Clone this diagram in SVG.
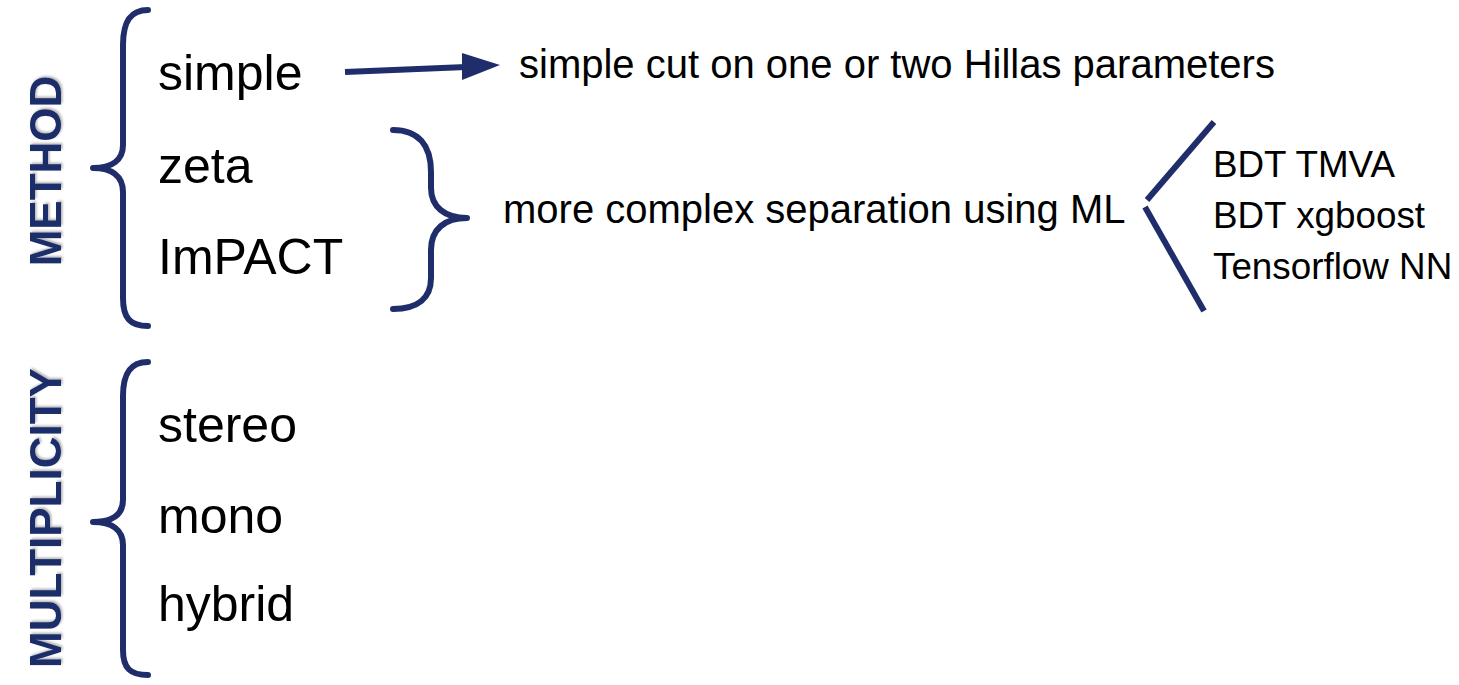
<svg xmlns="http://www.w3.org/2000/svg" width="1459" height="685" viewBox="0 0 1459 685">
<defs>
<style>
.t{font-family:"Liberation Sans",Arial,sans-serif;fill:#000}
.big{font-size:50px}
.mid{font-size:40px}
.sm{font-size:36.8px}
.lab{font-family:"Liberation Sans",Arial,sans-serif;font-weight:bold;font-size:44px;fill:#1f2e6b}
.br{fill:none;stroke:#1f2e6b;stroke-width:6;stroke-linecap:round;stroke-linejoin:round}
.ln{fill:none;stroke:#1f2e6b;stroke-width:6}
</style>
<filter id="sh" x="-10%" y="-10%" width="130%" height="130%">
<feDropShadow dx="1.5" dy="1.5" stdDeviation="1.2" flood-color="#000" flood-opacity="0.3"/>
</filter>
</defs>
<rect width="1459" height="685" fill="#fff"/>
<g id="method-label"><text class="lab" filter="url(#sh)" transform="translate(61,171) rotate(-90)" text-anchor="middle">METHOD</text></g>
<g id="multiplicity-label"><text class="lab" filter="url(#sh)" transform="translate(61,518) rotate(-90)" text-anchor="middle">MULTIPLICITY</text></g>
<g id="method-brace"><path class="br" d="M148,10 C130,10 123,22 123,45 L123,145 C123,160 112,168 93,168 C112,168 123,176 123,192 L123,298 C123,318 130,326 148,326"/></g>
<g id="multiplicity-brace"><path class="br" d="M148,362 C130,362 123,374 123,396 L123,500 C123,515 112,522 93,522 C112,522 123,530 123,545 L123,650 C123,668 130,675 148,675"/></g>
<g id="simple"><text class="t big" x="158" y="90">simple</text></g>
<g id="zeta"><text class="t big" x="158" y="183">zeta</text></g>
<g id="impact"><text class="t big" x="158" y="274">ImPACT</text></g>
<g id="stereo"><text class="t big" x="158" y="442">stereo</text></g>
<g id="mono"><text class="t big" x="158" y="533">mono</text></g>
<g id="hybrid"><text class="t big" x="158" y="621">hybrid</text></g>
<g id="simple-cut"><text class="t mid" x="519" y="78">simple cut on one or two Hillas parameters</text></g>
<g id="ml-brace"><path class="br" d="M393,130 C418,130 431,145 431,172 L431,188 C431,207 445,218 467,218 C445,218 431,229 431,250 L431,278 C431,298 418,309 393,309"/></g>
<g id="ml"><text class="t mid" x="503" y="223">more complex separation using ML</text></g>
<g id="bdt-tmva"><text class="t sm" x="1213" y="177">BDT TMVA</text></g>
<g id="bdt-xgboost"><text class="t sm" x="1213" y="228">BDT xgboost</text></g>
<g id="tf-nn"><text class="t sm" x="1213" y="279">Tensorflow NN</text></g>
<g id="connectors">
<line class="ln" x1="345" y1="72" x2="466" y2="67"/>
<polygon points="462,53 500,65 462,80" fill="#1f2e6b"/>
<line class="ln" x1="1214" y1="122" x2="1147" y2="200"/>
<line class="ln" x1="1145" y1="207" x2="1204" y2="311"/>
</g>
</svg>
